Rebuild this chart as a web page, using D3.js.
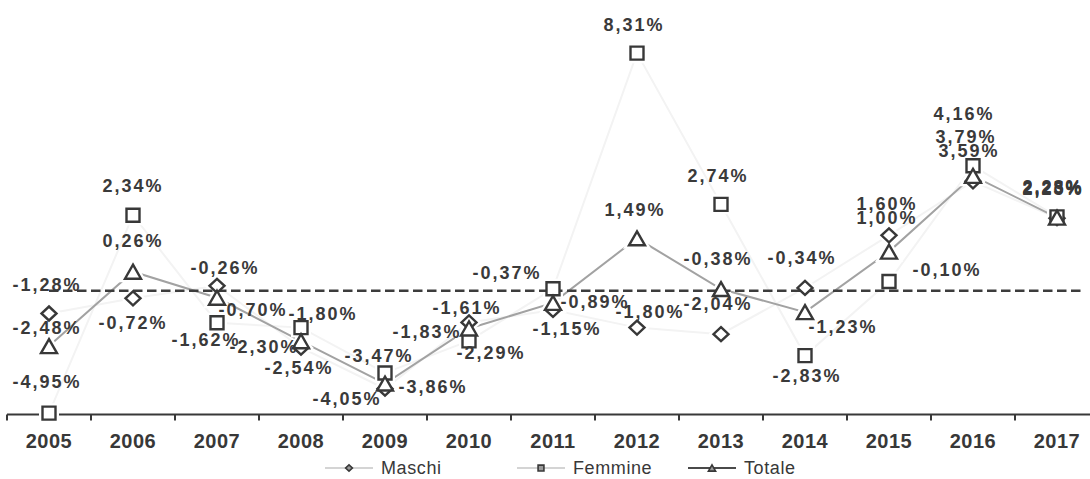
<!DOCTYPE html>
<html>
<head>
<meta charset="utf-8">
<script src="https://cdn.jsdelivr.net/npm/d3@7"></script>
<style>
  html, body { margin: 0; padding: 0; background: #fff; }
  svg { display: block; }
  text { font-family: "Liberation Sans", Arial, sans-serif; }
</style>
</head>
<body>
<svg id="chart" width="1090" height="479"></svg>
<script>
// Annual percentage change, by sex
const years   = ["2005","2006","2007","2008","2009","2010","2011","2012","2013","2014","2015","2016","2017"];
const maschi  = [-1.28, -0.72, -0.26, -2.54, -4.05, -1.61, -1.15, -1.80, -2.04, -0.34, 1.60, 3.59, 2.23];
const femmine = [-4.95,  2.34, -1.62, -1.80, -3.47, -2.29, -0.37,  8.31,  2.74, -2.83, -0.10, 4.16, 2.28];
const totale  = [-2.48,  0.26, -0.70, -2.30, -3.86, -1.83, -0.89,  1.49, -0.38, -1.23,  1.00, 3.79, 2.25];
const reference = -0.44;   // horizontal dashed reference level
const yDomain = [-5, 10];

// Offsets of each value label from its marker (dx, dy in px)
const labelOffsetMaschi = [[-2,-29],[0,24],[8,-18],[-2,20],[-38,10],[-2,-15],[14,19],[13,-16],[-3,-31],[-3,-30],[-2,-32],[-4,-31],[-4,-30]];
const labelOffsetFemmine = [[-2,-32],[0,-30],[-11,17],[22,-14],[-6,-17],[22,12],[-46,-16],[-3,-29],[-3,-29],[2,20],[58,-12],[-9,-52],[-4,-30]];
const labelOffsetTotale = [[-2,-19],[0,-31.5],[36,12],[-37,5],[48,3],[-42,3],[42,-1],[-2,-29],[-3,-31],[38,14],[-2,-34],[-7,-39],[-4,-30]];

const W = 1090, H = 479;
const svg = d3.select("#chart");

const x = d3.scaleBand().domain(years).range([7, 1099]).padding(0);
const cx = d => x(d) + x.bandwidth() / 2;
const y = d3.scaleLinear().domain(yDomain).range([414.5, 7.25]);

const locale = d3.formatLocale({ decimal: ",", thousands: ".", grouping: [3], currency: ["", "€"], minus: "-" });
const fmt = v => locale.format(".2f")(v) + "%";

// Marker outlines, centred on the data point
const shapePath = {
  diamond: (s) => { const w = 7.5 * s, h = 7 * s; return `M0,${-h}L${w},0L0,${h}L${-w},0Z`; },
  square:  (s) => { const a = 6.5 * s; return `M${-a},${-a}H${a}V${a}H${-a}Z`; },
  triangle:(s) => { const w = 8 * s, h = 7 * s; return `M0,${-h}L${w},${h}L${-w},${h}Z`; }
};

const series = [
  { name: "Maschi",  values: maschi,  shape: "diamond",  line: "#f3f3f3", legendLine: "#d4d4d4", offsets: labelOffsetMaschi },
  { name: "Femmine", values: femmine, shape: "square",   line: "#f3f3f3", legendLine: "#d4d4d4", offsets: labelOffsetFemmine },
  { name: "Totale",  values: totale,  shape: "triangle", line: "#a2a2a2", legendLine: "#4a4a4a", offsets: labelOffsetTotale }
];

const ink = "#383838";

// Axis line and ticks at category boundaries
const axisY = y(yDomain[0]);
svg.append("line")
  .attr("x1", x.range()[0]).attr("x2", W)
  .attr("y1", axisY).attr("y2", axisY)
  .attr("stroke", ink).attr("stroke-width", 2);
const bounds = years.map(d => x(d)).concat([x.range()[1]]);
svg.append("g").selectAll("line").data(bounds).join("line")
  .attr("x1", d => d).attr("x2", d => d)
  .attr("y1", axisY).attr("y2", axisY + 6)
  .attr("stroke", ink).attr("stroke-width", 2);

const axis = svg.append("g")
  .attr("transform", `translate(0,${axisY})`)
  .call(d3.axisBottom(x).tickSize(0).tickPadding(19));
axis.select(".domain").remove();
axis.selectAll("text")
  .attr("font-family", '"Liberation Sans", Arial, sans-serif')
  .attr("font-size", 20).attr("font-weight", "bold")
  .attr("letter-spacing", 0.5)
  .attr("fill", ink);

// Series lines
const lineGen = d3.line().x((v, i) => cx(years[i])).y(v => y(v));
series.forEach(s => {
  svg.append("path").datum(s.values)
    .attr("d", lineGen)
    .attr("fill", "none")
    .attr("stroke", s.line).attr("stroke-width", 2);
});

// White halos keep lines clear of the markers
series.forEach(s => {
  svg.append("g").selectAll("path").data(s.values).join("path")
    .attr("transform", (v, i) => `translate(${cx(years[i])},${y(v)})`)
    .attr("d", shapePath[s.shape](1))
    .attr("fill", "#fff").attr("stroke", "#fff").attr("stroke-width", 7);
});

// Dashed reference level
svg.append("line")
  .attr("x1", cx(years[0])).attr("x2", cx(years[years.length - 1]) + x.bandwidth() * 0.33)
  .attr("y1", y(reference)).attr("y2", y(reference))
  .attr("stroke", "#3c3c3c").attr("stroke-width", 2.4)
  .attr("stroke-dasharray", "9.5,4.5");

// Markers
series.forEach(s => {
  svg.append("g").selectAll("path").data(s.values).join("path")
    .attr("transform", (v, i) => `translate(${cx(years[i])},${y(v)})`)
    .attr("d", shapePath[s.shape](1))
    .attr("fill", "#fff").attr("stroke", ink).attr("stroke-width", 2.4)
    .attr("stroke-linejoin", "miter");
});

// Value labels
series.forEach(s => {
  svg.append("g").selectAll("text").data(s.values).join("text")
    .attr("x", (v, i) => cx(years[i]) + s.offsets[i][0])
    .attr("y", (v, i) => y(v) + s.offsets[i][1])
    .attr("dy", "0.36em")
    .attr("text-anchor", "middle")
    .attr("font-size", 18).attr("font-weight", "bold")
    .attr("letter-spacing", 2)
    .attr("fill", "#3a3a3a")
    .text(v => fmt(v));
});

// Legend
const legendX = [349, 541, 712];
const legendY = 468;
const legend = svg.append("g").selectAll("g").data(series).join("g")
  .attr("transform", (s, i) => `translate(${legendX[i]},${legendY})`);
legend.append("line")
  .attr("x1", -24).attr("x2", 24).attr("y1", 0).attr("y2", 0)
  .attr("stroke", s => s.legendLine).attr("stroke-width", 2);
legend.append("path")
  .attr("d", s => shapePath[s.shape](0.45))
  .attr("fill", "#9a9a9a").attr("stroke", ink).attr("stroke-width", 1.6);
legend.append("text")
  .attr("x", 32).attr("dy", "0.36em")
  .attr("font-size", 18).attr("letter-spacing", 0.6)
  .attr("fill", ink)
  .text(s => s.name);
</script>
</body>
</html>
